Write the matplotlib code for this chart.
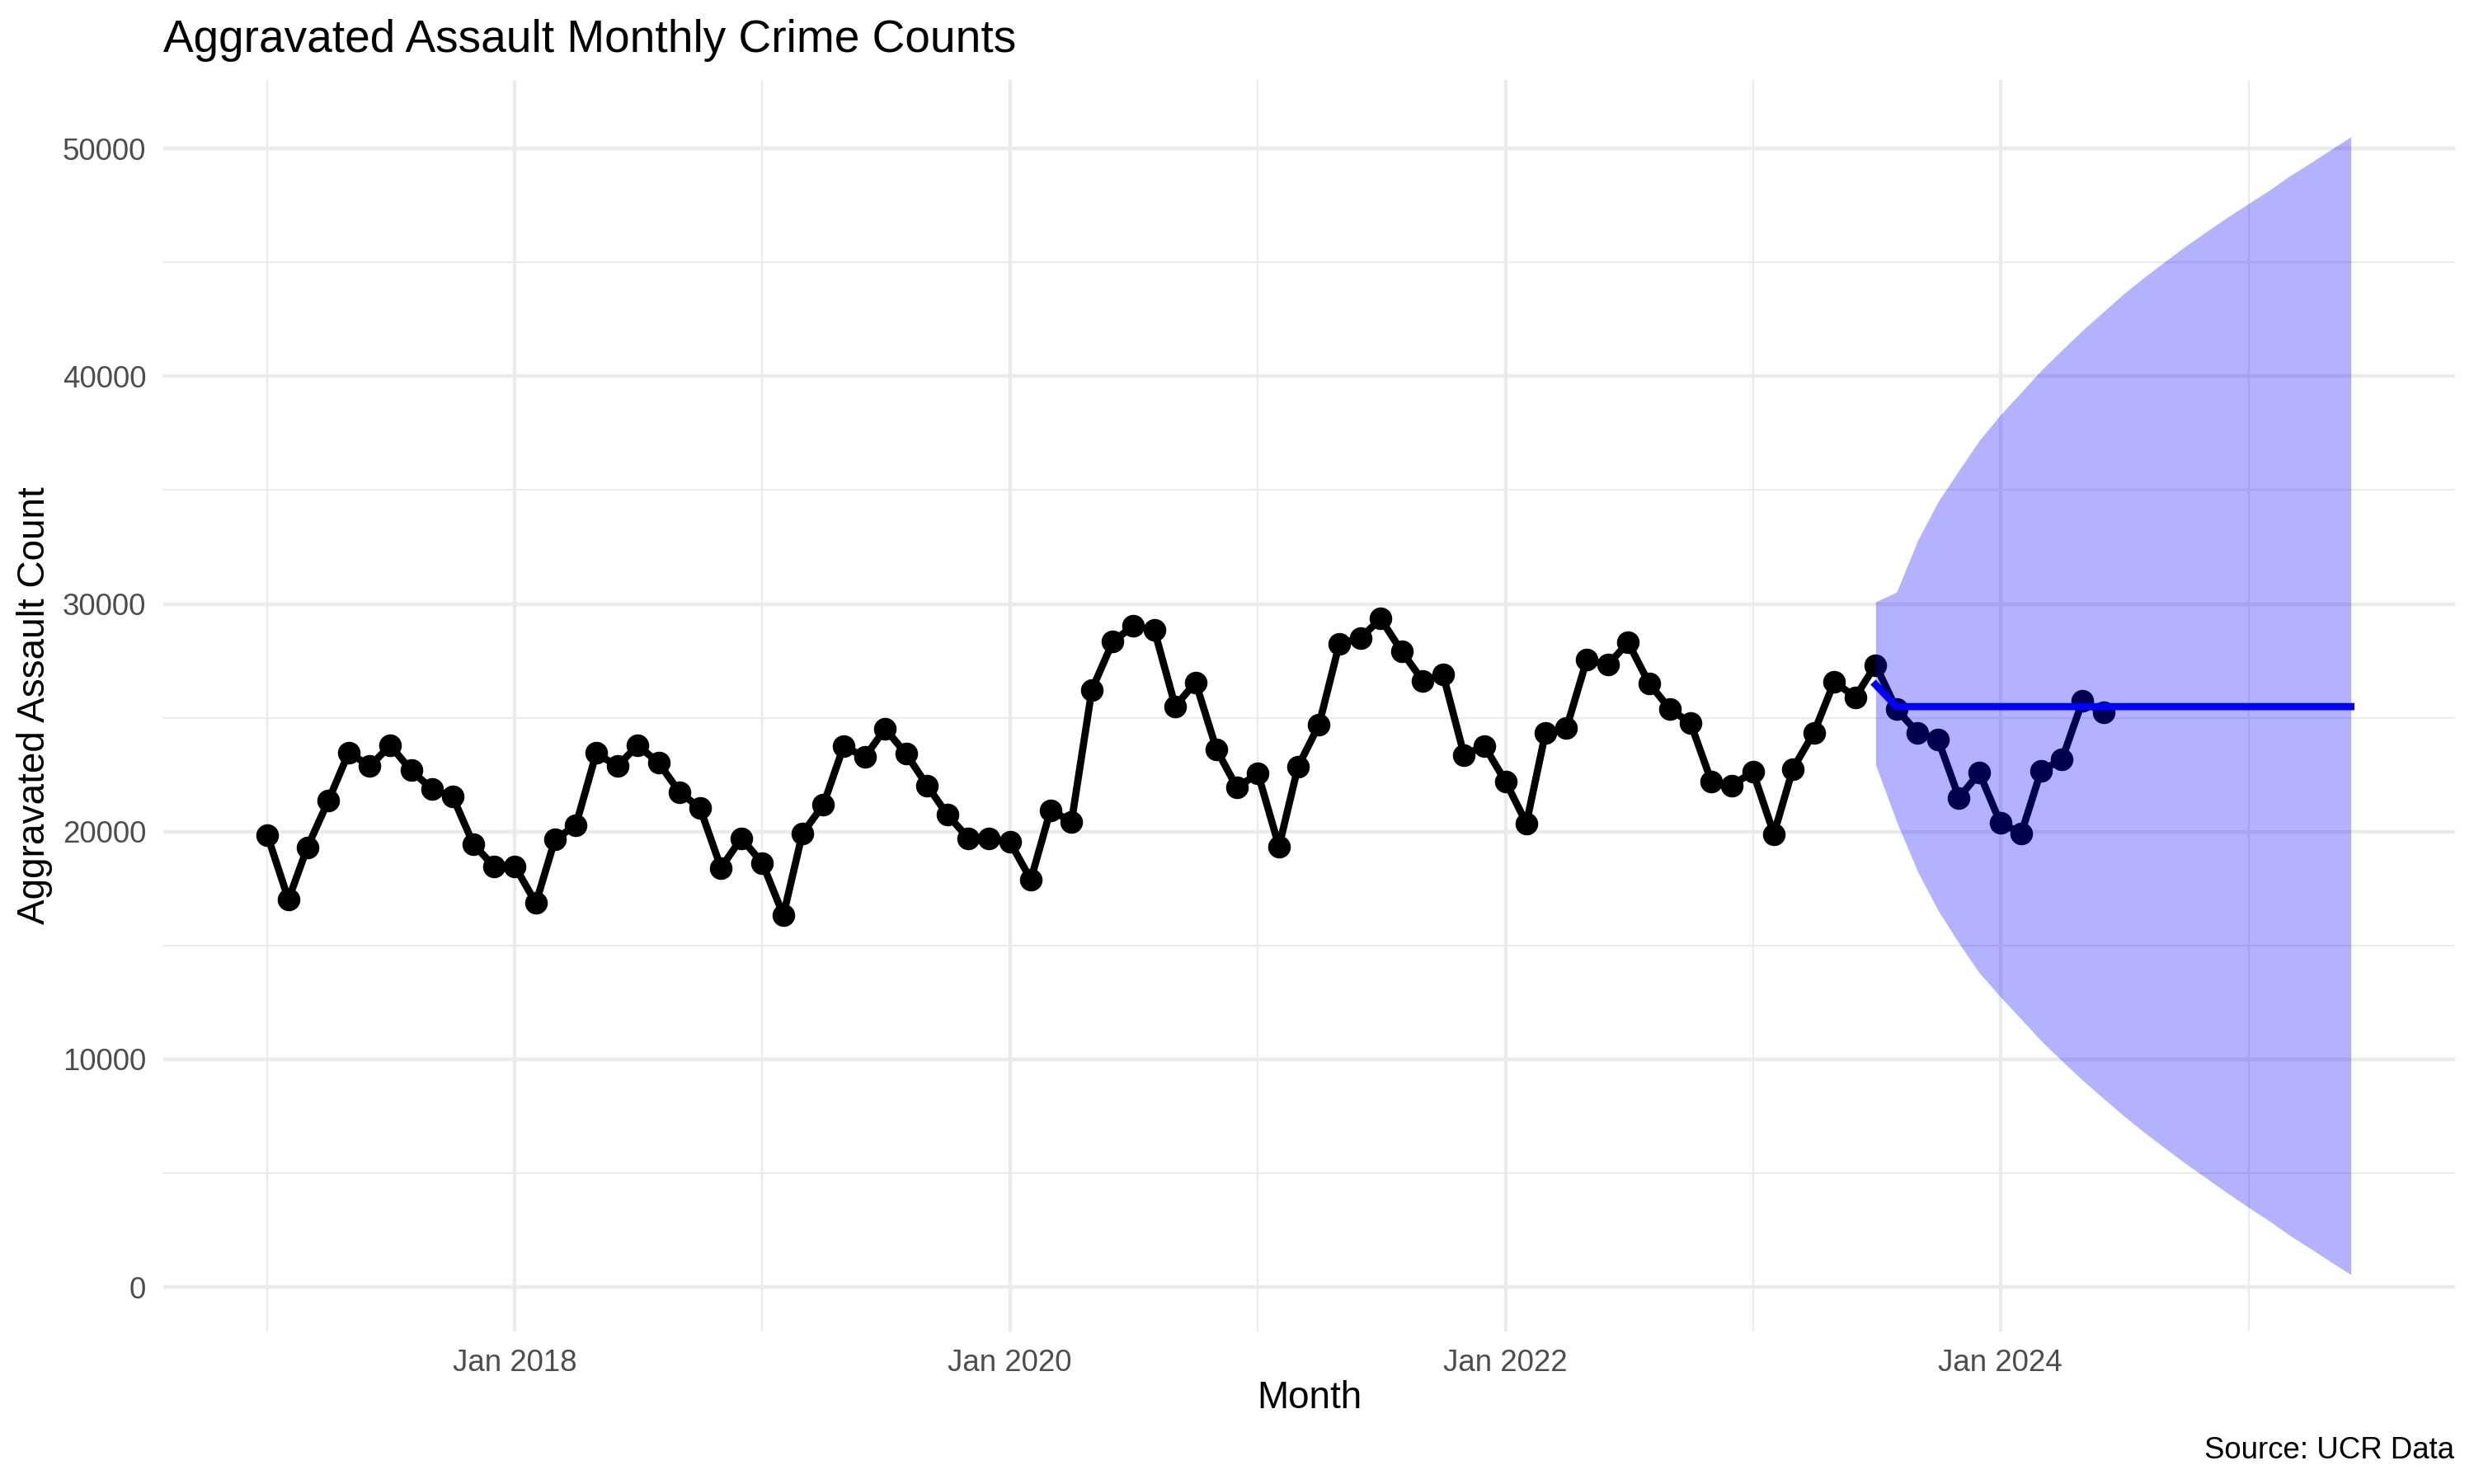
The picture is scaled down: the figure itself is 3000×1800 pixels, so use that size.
import matplotlib
matplotlib.use('Agg')
import matplotlib.pyplot as plt
import matplotlib.dates as mdates
import matplotlib.ticker as mticker
import pandas as pd
import datetime as dt

# ---------------- data ----------------
months = pd.date_range('2017-01-01', periods=90, freq='MS')
counts = [
    19830, 17020, 19320, 21370, 23480, 22870, 23790, 22690, 21860, 21550, 19440, 18480,  # 2017
    18480, 16860, 19650, 20290, 23450, 22870, 23790, 23020, 21730, 21040, 18410, 19710,  # 2018
    18620, 16330, 19920, 21180, 23760, 23270, 24520, 23420, 22030, 20740, 19710, 19710,  # 2019
    19550, 17900, 20940, 20440, 26230, 28350, 29030, 28870, 25510, 26560, 23600, 21940,  # 2020
    22550, 19350, 22850, 24690, 28250, 28500, 29350, 27920, 26630, 26900, 23370, 23760,  # 2021
    22210, 20370, 24330, 24540, 27550, 27330, 28300, 26510, 25370, 24770, 22190, 22030,  # 2022
    22630, 19900, 22760, 24350, 26580, 25910, 27320, 25370, 24350, 24050, 21490, 22580,  # 2023
    20390, 19930, 22670, 23170, 25730, 25230,                                            # 2024
]

fc_months = pd.date_range('2023-07-01', periods=24, freq='MS')
fc_mean = [26450, 25490, 25490, 25490, 25490, 25490, 25490, 25490, 25490, 25490, 25490, 25490,
           25490, 25490, 25490, 25490, 25490, 25490, 25490, 25490, 25490, 25490, 25490, 25490]
fc_upper = [30090, 30520, 32780, 34480, 35870, 37180, 38300, 39300, 40250, 41150, 42010, 42830,
            43620, 44360, 45060, 45730, 46370, 46980, 47580, 48170, 48760, 49340, 49920, 50510]
fc_lower = [22940, 20440, 18250, 16550, 15100, 13800, 12750, 11760, 10820, 9930, 9090, 8290,
            7520, 6780, 6080, 5410, 4760, 4130, 3500, 2900, 2310, 1720, 1140, 550]

major_years = [2018, 2020, 2022, 2024]
minor_years = [2017, 2019, 2021, 2023, 2025]

title = 'Aggravated Assault Monthly Crime Counts'
xlabel = 'Month'
ylabel = 'Aggravated Assault Count'
caption = 'Source: UCR Data'

# ---------------- style ----------------
plt.rcParams['font.family'] = ['Liberation Sans', 'DejaVu Sans']
GRID = '#EBEBEB'
TXT = '#4D4D4D'

W, H = 3000, 1800
fig = plt.figure(figsize=(10, 6), dpi=300)
left, right, top, bottom = 198, 2977, 97, 1615
ax = fig.add_axes([left / W, 1 - bottom / H, (right - left) / W, (bottom - top) / H])

ax.plot(months, counts, color='black', lw=2.1, zorder=3, solid_joinstyle='round')
ax.plot(months, counts, linestyle='none', marker='o', markersize=5.6,
        color='black', zorder=3.5)
ax.fill_between(fc_months, fc_lower, fc_upper, color='blue', alpha=0.3, lw=0, zorder=4)
ax.plot(fc_months, fc_mean, color='blue', lw=2.1, zorder=5)

# limits with ggplot-like 5% expansion
x0 = mdates.date2num(months[0])
x1 = mdates.date2num(fc_months[-1])
px = 0.05 * (x1 - x0)
ax.set_xlim(x0 - px, x1 + px)
ylo = min(min(counts), min(fc_lower))
yhi = max(max(counts), max(fc_upper))
py = 0.05 * (yhi - ylo)
ax.set_ylim(ylo - py, yhi + py)

ax.xaxis.set_major_locator(mticker.FixedLocator(
    [mdates.date2num(dt.date(y, 1, 1)) for y in major_years]))
ax.xaxis.set_minor_locator(mticker.FixedLocator(
    [mdates.date2num(dt.date(y, 1, 1)) for y in minor_years]))
ax.xaxis.set_major_formatter(mdates.DateFormatter('%b %Y'))
ax.yaxis.set_major_locator(mticker.MultipleLocator(10000))
ax.yaxis.set_minor_locator(mticker.MultipleLocator(5000))
ax.yaxis.set_major_formatter(mticker.FuncFormatter(lambda v, p: f'{int(round(v))}'))

ax.set_axisbelow(True)
ax.grid(which='major', color=GRID, lw=1.07)
ax.grid(which='minor', color=GRID, lw=0.53)
for s in ax.spines.values():
    s.set_visible(False)
ax.tick_params(which='both', length=0)
ax.tick_params(axis='x', which='major', labelsize=8.8, labelcolor=TXT, pad=5)
ax.tick_params(axis='y', which='major', labelsize=8.8, labelcolor=TXT, pad=5)

fig.text(left / W, 1 - 63 / H, title, fontsize=13.2, color='black',
         ha='left', va='baseline')
fig.text((left + right) / 2 / W, 1 - 1708 / H, xlabel, fontsize=11, color='black',
         ha='center', va='baseline')
fig.text(42 / W, 1 - (top + bottom) / 2 / H, ylabel, fontsize=11, color='black',
         ha='center', va='center', rotation=90)
fig.text(2976 / W, 1 - 1769 / H, caption, fontsize=8.8, color='black',
         ha='right', va='baseline')

fig.savefig('out.png', dpi=300, facecolor='white')
